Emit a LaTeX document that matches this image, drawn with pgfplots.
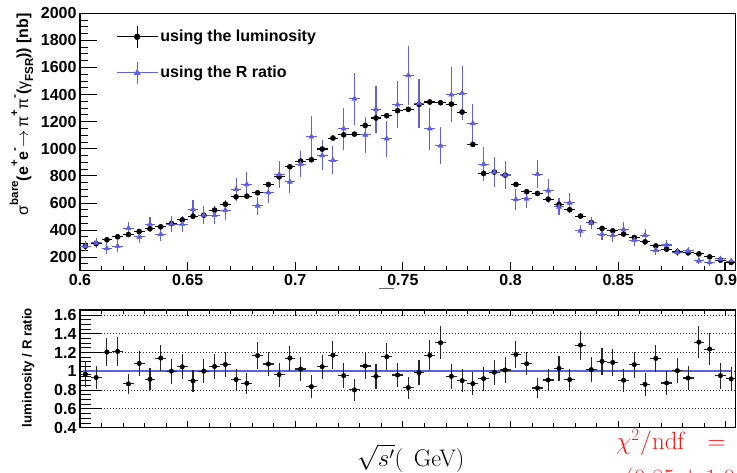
\documentclass[border=0pt]{standalone}
\usepackage[no-math]{fontspec}
\usepackage{pgfplots}
\usepackage{pgfplotstable}
\pgfplotsset{compat=1.18}
\newfontfamily\hv{Liberation Sans}
\definecolor{rblue}{RGB}{95,95,225}
\definecolor{rred}{RGB}{255,20,20}
\newcommand\tickfont{\hv\bfseries\fontsize{16}{19}\selectfont}
\newcommand\sps[1]{\raisebox{0.62em}{\fontsize{11.5}{12}\selectfont #1}}
\newcommand\sbs[1]{\raisebox{-0.32em}{\fontsize{11.5}{12}\selectfont #1}}

\pgfplotstableread{
x y ey
0.6025 281 5
0.6075 300 5
0.6125 328 5
0.6175 350 6
0.6225 367 6
0.6275 389 6
0.6325 409 7
0.6375 424 7
0.6425 448 7
0.6475 475 8
0.6525 502 8
0.6575 510 8
0.6625 547 9
0.6675 591 9
0.6725 645 10
0.6775 650 10
0.6825 675 11
0.6875 736 12
0.6925 793 12
0.6975 867 13
0.7025 909 14
0.7075 919 14
0.7125 998 15
0.7175 1079 16
0.7225 1103 17
0.7275 1108 17
0.7325 1172 18
0.7375 1227 18
0.7425 1244 19
0.7475 1281 19
0.7525 1291 19
0.7575 1328 20
0.7625 1345 20
0.7675 1340 20
0.7725 1330 20
0.7775 1271 19
0.7825 1032 16
0.7875 818 13
0.7925 828 13
0.7975 806 12
0.8025 737 11
0.8075 683 10
0.8125 670 10
0.8175 628 10
0.8225 589 9
0.8275 550 9
0.8325 503 8
0.8375 456 7
0.8425 412 7
0.8475 394 6
0.8525 370 6
0.8575 345 6
0.8625 313 5
0.8675 283 5
0.8725 259 5
0.8775 239 4
0.8825 232 4
0.8875 224 4
0.8925 202 4
0.8975 178 3
0.9025 161 3
}\tblack

\pgfplotstableread{
x y ey
0.6025 281 37
0.6075 305 36
0.6125 264 38
0.6175 281 42
0.6225 414 45
0.6275 350 47
0.6325 443 52
0.6375 369 50
0.6425 443 60
0.6475 443 59
0.6525 552 67
0.6575 510 66
0.6625 510 69
0.6675 547 72
0.6725 700 86
0.6775 736 91
0.6825 579 68
0.6875 677 74
0.6925 810 100
0.6975 756 86
0.7025 887 98
0.7075 1089 150
0.7125 951 111
0.7175 916 105
0.7225 1148 155
0.7275 1369 192
0.7325 1103 135
0.7375 1291 172
0.7425 1074 133
0.7475 1325 172
0.7525 1542 216
0.7575 1337 181
0.7625 1148 155
0.7675 1022 135
0.7725 1399 203
0.7775 1411 198
0.7825 1187 142
0.7875 887 123
0.7925 828 111
0.7975 806 105
0.8025 626 79
0.8075 631 67
0.8125 813 104
0.8175 690 89
0.8225 571 62
0.8275 601 76
0.8325 394 44
0.8375 453 47
0.8425 370 44
0.8475 362 50
0.8525 404 55
0.8575 325 40
0.8625 362 49
0.8675 252 33
0.8725 290 36
0.8775 237 31
0.8825 246 32
0.8875 173 27
0.8925 161 25
0.8975 187 25
0.9025 170 22
}\tblue

\pgfplotstableread{
x y ey
0.6025 0.970 0.137
0.6075 0.934 0.119
0.6125 1.205 0.146
0.6175 1.212 0.150
0.6225 0.866 0.109
0.6275 1.084 0.134
0.6325 0.916 0.118
0.6375 1.141 0.137
0.6425 1.002 0.134
0.6475 1.048 0.134
0.6525 0.898 0.121
0.6575 1.002 0.130
0.6625 1.052 0.135
0.6675 1.073 0.132
0.6725 0.913 0.116
0.6775 0.873 0.114
0.6825 1.168 0.143
0.6875 1.078 0.131
0.6925 0.965 0.127
0.6975 1.141 0.133
0.7025 1.025 0.124
0.7075 0.837 0.122
0.7125 1.049 0.129
0.7175 1.173 0.145
0.7225 0.954 0.133
0.7275 0.802 0.113
0.7325 1.057 0.141
0.7375 0.947 0.133
0.7425 1.155 0.145
0.7475 0.961 0.129
0.7525 0.827 0.117
0.7575 0.986 0.136
0.7625 1.170 0.159
0.7675 1.304 0.175
0.7725 0.947 0.134
0.7775 0.901 0.124
0.7825 0.869 0.122
0.7875 0.922 0.127
0.7925 0.990 0.132
0.7975 1.014 0.135
0.8025 1.180 0.145
0.8075 1.081 0.125
0.8125 0.823 0.107
0.8175 0.908 0.120
0.8225 1.032 0.130
0.8275 0.912 0.115
0.8325 1.279 0.155
0.8375 1.018 0.130
0.8425 1.106 0.140
0.8475 1.095 0.140
0.8525 0.905 0.125
0.8575 1.071 0.140
0.8625 0.862 0.125
0.8675 1.138 0.140
0.8725 0.876 0.125
0.8775 1.007 0.130
0.8825 0.929 0.130
0.8875 1.311 0.170
0.8925 1.237 0.170
0.8975 0.954 0.140
0.9025 0.919 0.130
}\tratio

\pgfplotsset{
  panelbase/.style={anchor=south west, scale only axis, width=655.7pt,
    xmin=0.6, xmax=0.9046,
    axis line style={line width=1.2pt},
    tick align=inside, tick style={line width=0.9pt, black},
    xticklabel style={font=\tickfont}, yticklabel style={font=\tickfont}},
  toppanel/.style={panelbase, at={(80pt,202.3pt)}, height=257.4pt, ymin=100, ymax=2000},
  botpanel/.style={panelbase, at={(80pt,45.3pt)}, height=117.7pt, ymin=0.4, ymax=1.653},
  xmaj/.style={xtick={0.6,0.65,0.7,0.75,0.8,0.85,0.9},
    minor xtick={0.61,0.62,0.63,0.64,0.66,0.67,0.68,0.69,0.71,0.72,0.73,0.74,0.76,0.77,0.78,0.79,0.81,0.82,0.83,0.84,0.86,0.87,0.88,0.89}},
  errs/.style={error bars/.cd, x dir=both, x fixed=0.0025, y dir=both, y explicit, error mark=none},
}

\begin{document}
\begin{tikzpicture}
% ---------- top panel: y ticks
\begin{axis}[toppanel, xtick=\empty, ytick pos=left,
  ytick={200,400,600,800,1000,1200,1400,1600,1800,2000},
  yticklabels={200,400,600,800,1000,1200,1400,1600,1800,2000},
  minor ytick={100,150,250,300,350,450,500,550,650,700,750,850,900,950,1050,1100,1150,1250,1300,1350,1450,1500,1550,1650,1700,1750,1850,1900,1950},
  major tick length=16.7pt, minor tick length=8.3pt]
\addplot[draw=none, forget plot] coordinates {(0.7,500)};
\end{axis}
% ---------- top panel: data
\begin{axis}[toppanel, xmaj, ytick=\empty, xtick pos=bottom,
  xticklabels={0.6,0.65,0.7,0.75,0.8,0.85,0.9},
  major tick length=9pt, minor tick length=4.7pt,
  legend cell align=left,
  legend image code/.code={%
    \draw[#1,mark=none] (0pt,0pt) -- (41.3pt,0pt);
    \draw[#1,mark=none] (20.65pt,-11pt) -- (20.65pt,11pt);
    \draw[#1,only marks] plot coordinates {(20.65pt,0pt)};},
  legend style={at={(0.05,0.962)}, anchor=north west, draw=none, fill=none,
    font=\hv\bfseries\fontsize{16}{19}\selectfont, row sep=13pt}]
\addlegendimage{black, line width=1.1pt, mark=*, mark size=2.6pt}
\addlegendentry{using the luminosity}
\addlegendimage{rblue, line width=1.1pt, mark=triangle*, mark size=3pt}
\addlegendentry{using the R ratio}
\addplot[black, only marks, mark=*, mark size=2.6pt, forget plot,
  errs, error bar style={line width=1.1pt, black}]
  table[x=x, y=y, y error=ey]{\tblack};
\addplot[rblue, only marks, mark=triangle*, mark size=3pt, forget plot,
  errs, error bar style={line width=1.1pt, rblue}]
  table[x=x, y=y, y error=ey]{\tblue};
\end{axis}
% ---------- bottom panel: y ticks and grid
\begin{axis}[botpanel, xtick=\empty, ytick pos=left,
  ytick={0.4,0.6,0.8,1,1.2,1.4,1.6},
  yticklabels={0.4,0.6,0.8,1,1.2,1.4,1.6},
  minor ytick={0.45,0.5,0.55,0.65,0.7,0.75,0.85,0.9,0.95,1.05,1.1,1.15,1.25,1.3,1.35,1.45,1.5,1.55},
  ymajorgrids, major grid style={line width=0.9pt, black!85, dash pattern=on 1pt off 2pt},
  major tick length=21.7pt, minor tick length=10.8pt]
\addplot[draw=none, forget plot] coordinates {(0.7,1)};
\end{axis}
% ---------- bottom panel: data
\begin{axis}[botpanel, xmaj, ytick=\empty, xtick pos=both, xticklabels={},
  major tick length=6.5pt, minor tick length=4.5pt]
\addplot[rblue, line width=2.3pt, forget plot] coordinates {(0.6012,1) (0.9028,1)};
\addplot[black, only marks, mark=*, mark size=2.3pt, forget plot,
  errs, error bar style={line width=1.1pt, black!85}]
  table[x=x, y=y, y error=ey]{\tratio};
\end{axis}
% ---------- labels and texts
\node[rotate=90, anchor=base east, inner sep=0pt] at (28pt,460pt)
  {\hv\fontsize{16}{19}\selectfont σ\sps{\bfseries bare}\bfseries(e\sps{+}e\sps{-}$\rightarrow$\,{\mdseries π}\sps{+}{\mdseries π}\sps{-}({\mdseries γ}\sbs{FSR})) [nb]};
\node[rotate=90, anchor=base east, inner sep=0pt] at (31.5pt,165pt)
  {\hv\bfseries\fontsize{13.2}{15}\selectfont luminosity / R ratio};
\node[anchor=base west, inner sep=0pt, font=\fontsize{24}{28}\selectfont] at (357pt,6.3pt)
  {$\sqrt{s'}$(\hspace{0.45em}GeV)};
\node[anchor=base west, inner sep=0pt, text=rred, font=\fontsize{27}{32}\selectfont] at (616pt,23pt)
  {$\chi^{2}/\mathrm{ndf}\hspace{0.55em} =\hspace{0.2em} 5$};
\node[anchor=base west, inner sep=0pt, text=rred, font=\fontsize{27}{32}\selectfont] at (625pt,-14pt)
  {$(0.85 \pm 1.0$};
\draw[black!60, line width=1pt] (379.3pt,184pt) -- (394pt,184pt);
\draw[black, line width=1pt] (724.3pt,210.7pt) -- (724.3pt,202.3pt);
\draw[black, line width=1pt] (724.3pt,210.7pt) -- (735.7pt,210.7pt);
\pgfresetboundingbox
\useasboundingbox (0pt,0pt) rectangle (737pt,473pt);
\end{tikzpicture}
\end{document}
